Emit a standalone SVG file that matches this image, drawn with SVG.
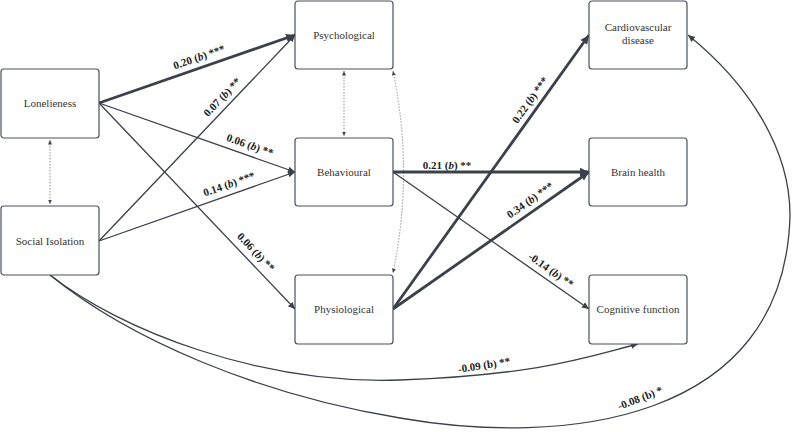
<svg xmlns="http://www.w3.org/2000/svg" width="794" height="432" viewBox="0 0 794 432">
<style>
.box{fill:#fff;stroke:#4a505c;stroke-width:1.2}
.nt{font-family:"Liberation Serif",serif;font-size:11px;fill:#333;text-anchor:middle}
.lb{font-family:"Liberation Serif",serif;font-size:11px;font-weight:bold;fill:#222;text-anchor:middle}
.thin{fill:none;stroke:#3b404a;stroke-width:1.3;marker-end:url(#ah)}
.thick{fill:none;stroke:#3b404a;stroke-width:2.8;marker-end:url(#ahb)}
.dot{fill:none;stroke:#888;stroke-width:0.9;stroke-dasharray:1.5 1.5;marker-start:url(#ad);marker-end:url(#ad)}
</style>
<defs>
<marker id="ah" markerUnits="userSpaceOnUse" markerWidth="8" markerHeight="8" refX="7" refY="4" orient="auto"><path d="M0,0.8 L7,4 L0,7.2 Z" fill="#3b404a"/></marker>
<marker id="ahb" markerUnits="userSpaceOnUse" markerWidth="10" markerHeight="10" refX="9" refY="5" orient="auto"><path d="M0,0.8 L9,5 L0,9.2 Z" fill="#3b404a"/></marker>
<marker id="ad" markerUnits="userSpaceOnUse" markerWidth="5" markerHeight="5" refX="4.5" refY="2.5" orient="auto-start-reverse"><path d="M0,0.5 L4.5,2.5 L0,4.5 Z" fill="#444"/></marker>
</defs>
<rect width="794" height="432" fill="#fff"/>
<g id="connectors">
<line class="dot" x1="50" y1="140" x2="50" y2="204"/>
<line class="dot" x1="344" y1="71" x2="344" y2="136"/>
<path class="dot" d="M393,71 Q414,172 393,273"/>
<line class="thick" x1="99" y1="103" x2="295" y2="35"/>
<line class="thin" x1="99" y1="241" x2="295" y2="35"/>
<line class="thin" x1="99" y1="103" x2="295" y2="172"/>
<line class="thin" x1="99" y1="241" x2="295" y2="172"/>
<line class="thin" x1="99" y1="103" x2="295" y2="309"/>
<line class="thick" x1="393" y1="172" x2="589" y2="172"/>
<line class="thin" x1="393" y1="172" x2="589" y2="309"/>
<line class="thick" x1="393" y1="309" x2="589" y2="35"/>
<line class="thick" x1="393" y1="309" x2="589" y2="172"/>
<path class="thin" d="M50,275 C120,330 260,385 400,380 S590,356 638,344"/>
<path class="thin" d="M50,275 C130,340 260,395 400,418 C560,446 785,425 790,215 C790,150 750,85 688,35"/>
<text class="lb" transform="translate(199,57) rotate(-19.1)" dy="0.35em">0.20 (<tspan font-style="italic">b</tspan>) ***</text>
<text class="lb" transform="translate(222,97) rotate(-46.4)" dy="0.35em">0.07 (<tspan font-style="italic">b</tspan>) **</text>
<text class="lb" transform="translate(250,145) rotate(19.4)" dy="0.35em">0.06 (<tspan font-style="italic">b</tspan>) **</text>
<text class="lb" transform="translate(229,184) rotate(-19.4)" dy="0.35em">0.14 (<tspan font-style="italic">b</tspan>) ***</text>
<text class="lb" transform="translate(256,252) rotate(46.4)" dy="0.35em">0.06 (<tspan font-style="italic">b</tspan>) **</text>
<text class="lb" transform="translate(447,165)" dy="0.35em">0.21 (<tspan font-style="italic">b</tspan>) **</text>
<text class="lb" transform="translate(551,270) rotate(35)" dy="0.35em">-0.14 (<tspan font-style="italic">b</tspan>) **</text>
<text class="lb" transform="translate(530,100) rotate(-54.4)" dy="0.35em">0.22 (<tspan font-style="italic">b</tspan>) ***</text>
<text class="lb" transform="translate(530,200) rotate(-35)" dy="0.35em">0.34 (<tspan font-style="italic">b</tspan>) ***</text>
<text class="lb" transform="translate(484,365) rotate(-9)" dy="0.35em">-0.09 (b) **</text>
<text class="lb" transform="translate(640,398) rotate(-21)" dy="0.35em">-0.08 (b) *</text>
</g>
<g id="loneliness"><rect class="box" x="1" y="69" width="98" height="69" rx="3"/><text class="nt" x="50" y="107">Lonelieness</text></g>
<g id="social-isolation"><rect class="box" x="1" y="206" width="98" height="69" rx="3"/><text class="nt" x="50" y="245">Social Isolation</text></g>
<g id="psychological"><rect class="box" x="295" y="1" width="98" height="68" rx="3"/><text class="nt" x="344" y="39">Psychological</text></g>
<g id="behavioural"><rect class="box" x="295" y="138" width="98" height="68" rx="3"/><text class="nt" x="344" y="176">Behavioural</text></g>
<g id="physiological"><rect class="box" x="295" y="275" width="98" height="69" rx="3"/><text class="nt" x="344" y="313">Physiological</text></g>
<g id="cardiovascular"><rect class="box" x="589" y="1" width="98" height="68" rx="3"/><text class="nt" x="638" y="31">Cardiovascular</text><text class="nt" x="638" y="44">disease</text></g>
<g id="brain-health"><rect class="box" x="589" y="138" width="98" height="68" rx="3"/><text class="nt" x="638" y="176">Brain health</text></g>
<g id="cognitive-function"><rect class="box" x="589" y="275" width="98" height="69" rx="3"/><text class="nt" x="638" y="313">Cognitive function</text></g>
</svg>
